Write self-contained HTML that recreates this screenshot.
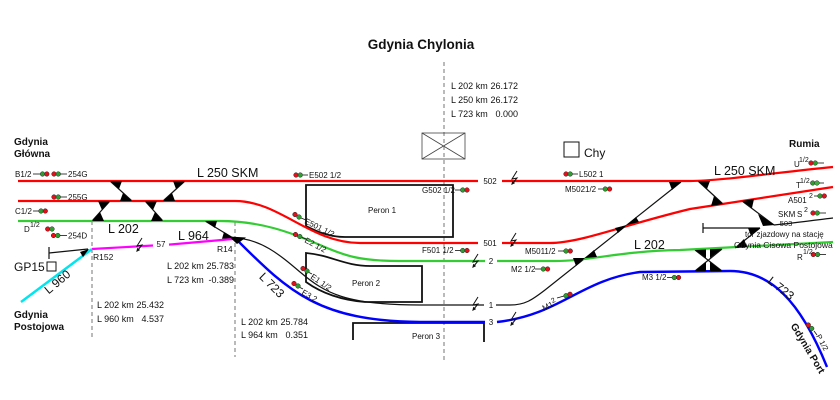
<!DOCTYPE html>
<html><head><meta charset="utf-8">
<style>
html,body{margin:0;padding:0;background:#fff;}
svg{display:block;}
text{font-family:"Liberation Sans",Arial,sans-serif;fill:#111;}
</style></head><body>
<svg width="840" height="400" viewBox="0 0 840 400" xmlns="http://www.w3.org/2000/svg">
<rect width="840" height="400" fill="#fff"/>

<!-- title -->
<text x="421" y="49" text-anchor="middle" font-size="13.5" font-weight="bold">Gdynia Chylonia</text>

<!-- dashed verticals -->
<g stroke="#666" stroke-width="0.9" stroke-dasharray="4,3" fill="none">
<line x1="444" y1="62" x2="444" y2="361"/>
<line x1="92" y1="221" x2="92" y2="340"/>
<line x1="235" y1="222" x2="235" y2="357"/>
</g>

<!-- station info -->
<g font-size="9">
<text x="451" y="89">L 202 km</text><text x="518" y="89" text-anchor="end">26.172</text>
<text x="451" y="103">L 250 km</text><text x="518" y="103" text-anchor="end">26.172</text>
<text x="451" y="117">L 723 km</text><text x="518" y="117" text-anchor="end">0.000</text>

<text x="167" y="269">L 202 km</text><text x="234" y="269" text-anchor="end">25.783</text>
<text x="167" y="283">L 723 km</text><text x="234" y="283" text-anchor="end">-0.389</text>

<text x="97" y="308">L 202 km</text><text x="164" y="308" text-anchor="end">25.432</text>
<text x="97" y="322">L 960 km</text><text x="164" y="322" text-anchor="end">4.537</text>

<text x="241" y="325">L 202 km</text><text x="308" y="325" text-anchor="end">25.784</text>
<text x="241" y="338">L 964 km</text><text x="308" y="338" text-anchor="end">0.351</text>
</g>

<!-- station building -->
<g stroke="#444" stroke-width="0.8" fill="none">
<rect x="422" y="133" width="43" height="26"/>
<line x1="422" y1="133" x2="465" y2="159"/>
<line x1="465" y1="133" x2="422" y2="159"/>
</g>
<rect x="564" y="142" width="15" height="15" fill="none" stroke="#111" stroke-width="1"/>
<text x="584" y="157" font-size="12">Chy</text>

<!-- platforms -->
<g stroke="#111" stroke-width="1.8" fill="none">
<path d="M306,185 H453 V237 H345 C330,237 318,232 306,226 Z"/>
<path d="M306,282 V253 C330,255 345,266 370,266 H422 V302 H365 C340,300 320,292 306,282 Z"/>
<path d="M353,340 V323 H484 V342"/>
</g>
<g font-size="8">
<text x="368" y="213">Peron 1</text>
<text x="352" y="286">Peron 2</text>
<text x="412" y="339">Peron 3</text>
</g>

<!-- black tracks -->
<g stroke="#111" stroke-width="1.2" fill="none">
<path d="M233,238 C260,238 280,255 300,272 C325,293 345,305 420,305 H484"/>
<path d="M496,305 H510 C525,305 532,300 545,290 L681,182"/>
<line x1="110" y1="181" x2="132" y2="201"/>
<line x1="185" y1="181" x2="163" y2="201"/>
<line x1="110" y1="201" x2="92" y2="221"/>
<line x1="145" y1="201" x2="163" y2="221"/>
<line x1="205" y1="221" x2="233" y2="238"/>
<path d="M49,253 L88,249"/>
<line x1="49" y1="247" x2="49" y2="259"/>
<line x1="698" y1="181" x2="723" y2="204"/>
<line x1="742" y1="201" x2="774" y2="225"/>
<path d="M774,225 C795,223 815,220 833,218"/>
<line x1="703" y1="228" x2="760" y2="228"/>
<line x1="703" y1="223" x2="703" y2="233"/>
<line x1="760" y1="228" x2="735" y2="248"/>
<line x1="695" y1="250" x2="722" y2="271"/>
<line x1="722" y1="249" x2="695" y2="271"/>
</g>

<!-- colored tracks -->
<g fill="none" stroke-width="2.2">
<path stroke="#ff0000" d="M18,181 H478 M502,181 H690 C720,181 780,172 833,167"/>
<path stroke="#ff0000" d="M18,201 H235 C280,201 310,243 360,243 H478"/>
<path stroke="#ff0000" d="M502,243 H550 C580,243 620,226 690,209 L833,187"/>
<path stroke="#33cc33" d="M18,221 H220 C260,221 290,232 320,245 C345,256 360,261 400,261 H485"/>
<path stroke="#33cc33" d="M497,261 H555 C590,261 620,251 680,250 L833,242"/>
<path stroke="#0000ff" stroke-width="2.4" d="M237,240 C290,293 320,321 420,322 H485"/>
<path stroke="#0000ff" stroke-width="2.4" d="M497,322 C560,315 580,280 640,272 L730,271 C770,271 800,300 827,367"/>
<path stroke="#ff00ff" d="M92,249 L153,245.5 M169,244.6 L233,239"/>
<path stroke="#00e5ee" stroke-width="2.5" d="M92,249 L21,302"/>
</g>

<!-- wedges -->
<g fill="#000">
<polygon points="110,181 122,181 119,189"/>
<polygon points="132,201 120,201 123,193"/>
<polygon points="185,181 173,181 176,189"/>
<polygon points="163,201 175,201 172,193"/>
<polygon points="110,201 98,201 102,210"/>
<polygon points="92,221 104,221 100,212"/>
<polygon points="145,201 157,201 153,210"/>
<polygon points="163,221 151,221 155,212"/>
<polygon points="205,221 217,221 215,228"/>
<polygon points="234,238 222,238.8 224,232"/>
<polygon points="229,236.5 246,237.5 237,244"/>
<polygon points="80,252 89,249 83,257"/>
<polygon points="585,258 573,258 576,266"/>
<polygon points="585,258 597,257 594,250"/>
<polygon points="627,225 615,228 618,233"/>
<polygon points="627,225 639,222 636,217"/>
<polygon points="681,182 669,182 672,190"/>
<polygon points="698,181 710,181 707,189"/>
<polygon points="723,204 711,206 714,196"/>
<polygon points="742,201 754,199 752,208"/>
<polygon points="758,214 775,225 763,226"/>
<polygon points="760,228 748,228 751,236"/>
<polygon points="735,248 747,247 744,239"/>
<polygon points="695,250 706,249.5 706,258"/>
<polygon points="710,249.3 722,248.7 710,258"/>
<polygon points="695,271 706,271 706,262"/>
<polygon points="710,271 722,271 710,262"/>
</g>

<!-- track labels -->
<g font-size="8" text-anchor="middle">
<text x="490" y="184">502</text>
<text x="490" y="246">501</text>
<text x="491" y="264">2</text>
<text x="491" y="308">1</text>
<text x="491" y="325">3</text>
<text x="161" y="247">57</text>
<text x="786" y="226" font-size="7.5">503</text>
</g>

<!-- bolts -->
<g stroke="#111" stroke-width="1" fill="none">
<path d="M517,171 L512,179 L517,178 L512.5,183.5"/>
<path d="M516,233 L511,241 L516,240 L511.5,245.5"/>
<path d="M478,254 L473,262 L478,261 L473.5,266.5"/>
<path d="M478,297 L473,305 L478,304 L473.5,309.5"/>
<path d="M516,312 L511,320 L516,319 L511.5,324.5"/>
<path d="M142,238 L137,246 L142,245 L137.5,250.5"/>
</g>
<g fill="#111">
<polygon points="511.2,185 515.1,183.1 512.3,180.8"/>
<polygon points="510.2,247 514.1,245.1 511.3,242.8"/>
<polygon points="472.2,268 476.1,266.1 473.3,263.8"/>
<polygon points="472.2,311 476.1,309.1 473.3,306.8"/>
<polygon points="510.2,326 514.1,324.1 511.3,321.8"/>
<polygon points="136.2,252 140.1,250.1 137.3,247.8"/>
</g>

<!-- big labels -->
<g font-size="12.5">
<text x="197" y="177">L 250 SKM</text>
<text x="714" y="175">L 250 SKM</text>
<text x="108" y="233">L 202</text>
<text x="178" y="240">L 964</text>
<text x="634" y="249">L 202</text>
<text x="14" y="271" font-size="12">GP15</text>
<text transform="translate(269,288) rotate(45)" text-anchor="middle" font-size="12">L 723</text>
<text transform="translate(60,285) rotate(-40)" text-anchor="middle" font-size="12">L 960</text>
<text transform="translate(778.5,291.5) rotate(38)" text-anchor="middle" font-size="12">L 723</text>
</g>
<rect x="47" y="262" width="9" height="9" fill="none" stroke="#111" stroke-width="1"/>

<!-- place names -->
<g font-size="10" font-weight="bold">
<text x="14" y="145">Gdynia</text>
<text x="14" y="157">Główna</text>
<text x="14" y="318">Gdynia</text>
<text x="14" y="330">Postojowa</text>
<text x="789" y="147">Rumia</text>
<text transform="translate(805,350) rotate(59)" text-anchor="middle">Gdynia Port</text>
</g>

<!-- small labels -->
<g font-size="8.5">
<text x="93" y="260">R152</text>
<text x="217" y="252">R14</text>
</g>

<!-- signals -->
<g stroke="#111" stroke-width="0.8">
<line x1="33" y1="174" x2="40" y2="174"/>
<line x1="60.5" y1="174" x2="67" y2="174"/>
<line x1="60.5" y1="197" x2="67" y2="197"/>
<line x1="33" y1="211" x2="38.5" y2="211"/>
<line x1="60" y1="235.5" x2="67" y2="235.5"/>
<line x1="302.8" y1="175" x2="308" y2="175"/>
<line x1="455" y1="190" x2="460.5" y2="190"/>
<line x1="455" y1="250.5" x2="460.5" y2="250.5"/>
<line x1="301" y1="218" x2="306" y2="220"/>
<line x1="302" y1="237.5" x2="306" y2="239"/>
<line x1="309" y1="272.5" x2="312" y2="274"/>
<line x1="300" y1="287.5" x2="303" y2="289"/>
<line x1="572" y1="174" x2="578" y2="174"/>
<line x1="598" y1="189" x2="603" y2="189"/>
<line x1="558" y1="251" x2="563.5" y2="251"/>
<line x1="535" y1="269" x2="541" y2="269"/>
<line x1="557" y1="298" x2="564" y2="296"/>
<line x1="667" y1="277.5" x2="672" y2="277.5"/>
<line x1="818" y1="163" x2="824" y2="163"/>
<line x1="819" y1="183" x2="824" y2="183"/>
<line x1="814" y1="196" x2="818" y2="196"/>
<line x1="820" y1="213" x2="826" y2="213"/>
<line x1="820" y1="254.5" x2="826" y2="254.5"/>
<line x1="814" y1="331" x2="817" y2="335"/>
</g>
<g stroke="#222" stroke-width="0.5">
<circle cx="42.5" cy="174" r="2.3" fill="#2e9e2e"/><circle cx="46.8" cy="174" r="2.3" fill="#e3101a"/>
<circle cx="54" cy="174" r="2.3" fill="#e3101a"/><circle cx="58.3" cy="174" r="2.3" fill="#2e9e2e"/>
<circle cx="54" cy="197" r="2.3" fill="#e3101a"/><circle cx="58.3" cy="197" r="2.3" fill="#2e9e2e"/>
<circle cx="41" cy="211" r="2.3" fill="#2e9e2e"/><circle cx="45.3" cy="211" r="2.3" fill="#e3101a"/>
<circle cx="47.7" cy="229" r="2.3" fill="#e3101a"/><circle cx="52" cy="229" r="2.3" fill="#2e9e2e"/>
<circle cx="53.5" cy="235.5" r="2.3" fill="#e3101a"/><circle cx="57.8" cy="235.5" r="2.3" fill="#2e9e2e"/>

<circle cx="296" cy="175" r="2.3" fill="#e3101a"/><circle cx="300.3" cy="175" r="2.3" fill="#2e9e2e"/>
<circle cx="462.7" cy="190" r="2.3" fill="#2e9e2e"/><circle cx="467" cy="190" r="2.3" fill="#e3101a"/>
<circle cx="462.7" cy="250.5" r="2.3" fill="#2e9e2e"/><circle cx="467" cy="250.5" r="2.3" fill="#e3101a"/>
<circle cx="295" cy="214.5" r="2.3" fill="#e3101a"/><circle cx="299" cy="217" r="2.3" fill="#2e9e2e"/>
<circle cx="295.5" cy="234.5" r="2.3" fill="#e3101a"/><circle cx="299.8" cy="236.5" r="2.3" fill="#2e9e2e"/>
<circle cx="303" cy="268.5" r="2.3" fill="#e3101a"/><circle cx="307" cy="271" r="2.3" fill="#2e9e2e"/>
<circle cx="294" cy="283.5" r="2.3" fill="#e3101a"/><circle cx="298" cy="286" r="2.3" fill="#2e9e2e"/>

<circle cx="566" cy="174" r="2.3" fill="#e3101a"/><circle cx="570.2" cy="174" r="2.3" fill="#2e9e2e"/>
<circle cx="605.3" cy="189" r="2.3" fill="#2e9e2e"/><circle cx="609.6" cy="189" r="2.3" fill="#e3101a"/>
<circle cx="566" cy="251" r="2.3" fill="#2e9e2e"/><circle cx="570.3" cy="251" r="2.3" fill="#e3101a"/>
<circle cx="543.3" cy="269" r="2.3" fill="#2e9e2e"/><circle cx="547.6" cy="269" r="2.3" fill="#e3101a"/>
<circle cx="566" cy="295.7" r="2.3" fill="#2e9e2e"/><circle cx="570" cy="294.3" r="2.3" fill="#e3101a"/>
<circle cx="674.3" cy="277.5" r="2.3" fill="#2e9e2e"/><circle cx="678.6" cy="277.5" r="2.3" fill="#e3101a"/>

<circle cx="811" cy="163" r="2.3" fill="#e3101a"/><circle cx="815.3" cy="163" r="2.3" fill="#2e9e2e"/>
<circle cx="812.7" cy="183" r="2.3" fill="#2e9e2e"/><circle cx="817" cy="183" r="2.3" fill="#3fae3f"/>
<circle cx="820" cy="196" r="2.3" fill="#2e9e2e"/><circle cx="824.3" cy="196" r="2.3" fill="#e3101a"/>
<circle cx="813" cy="213" r="2.3" fill="#e3101a"/><circle cx="817.3" cy="213" r="2.3" fill="#2e9e2e"/>
<circle cx="813.3" cy="254.5" r="2.3" fill="#e3101a"/><circle cx="817.6" cy="254.5" r="2.3" fill="#2e9e2e"/>
<circle cx="808.3" cy="325" r="2.3" fill="#e3101a"/><circle cx="811.7" cy="328.5" r="2.3" fill="#2e9e2e"/>
</g>

<!-- signal labels -->
<g font-size="8">
<text x="15" y="177">B1/2</text>
<text x="68" y="177">254G</text>
<text x="68" y="200">255G</text>
<text x="15" y="214">C1/2</text>
<text x="24" y="232">D</text><text x="30" y="227" font-size="7">1/2</text>
<text x="68" y="238.5">254D</text>

<text x="309" y="178">E502 1/2</text>
<text x="422" y="193">G502 1/2</text>
<text x="422" y="253">F501 1/2</text>
<text transform="translate(304,223) rotate(26)">E501 1/2</text>
<text transform="translate(304,242) rotate(28)">E2 1/2</text>
<text transform="translate(310,278) rotate(34)">E1 1/2</text>
<text transform="translate(301,294) rotate(30)">E3 2</text>

<text x="579" y="177">L502 1</text>
<text x="565" y="192">M5021/2</text>
<text x="525" y="254">M5011/2</text>
<text x="511" y="272">M2 1/2</text>
<text transform="translate(544,311) rotate(-27)">M1<tspan dy="-3" font-size="7">2</tspan></text>
<text x="642" y="280">M3 1/2</text>

<text x="794" y="167">U</text><text x="799" y="162" font-size="7">1/2</text>
<text x="796" y="188">T</text><text x="800" y="183" font-size="7">1/2</text>
<text x="788" y="203">A501</text><text x="809" y="198" font-size="7">2</text>
<text x="778" y="217">SKM</text><text x="797" y="217">S</text><text x="804" y="212" font-size="7">2</text>
<text x="797" y="260">R</text><text x="803" y="254" font-size="7">1/2</text>
<text transform="translate(816,336) rotate(62)" font-size="7.5">P 1/2</text>

<text x="745" y="237">tor zjazdowy na stację</text>
<text x="734" y="248" font-size="8.5">Gdynia Cisowa Postojowa</text>
</g>
</svg>
</body></html>
